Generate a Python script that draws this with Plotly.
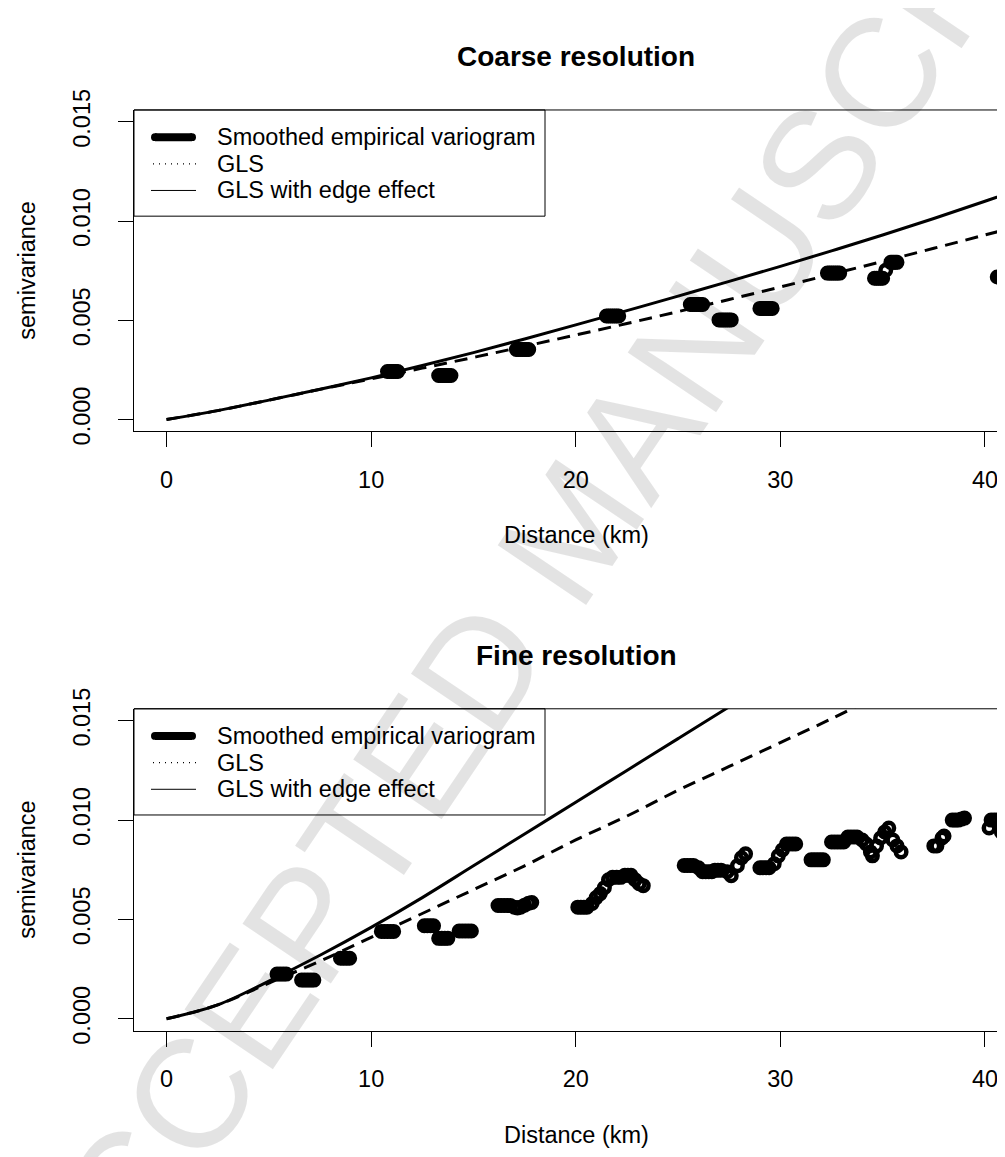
import plotly.graph_objects as go

W, H = 1005, 1157

# ---------------- data ----------------
curve_x_top = [0, 2.5, 5, 7.5, 10, 12.5, 15, 17.5, 20, 22.5, 25, 27.5, 30, 32.5, 35, 37.5, 40, 42.5]
top_edge = [0, 0.00045, 0.00098, 0.00153, 0.00210, 0.00272, 0.00337, 0.00406, 0.00477, 0.00549,
            0.00622, 0.00696, 0.00772, 0.00850, 0.00930, 0.01013, 0.01100, 0.01190]
top_gls = [0, 0.00045, 0.00098, 0.00152, 0.00205, 0.00259, 0.00313, 0.00369, 0.00426, 0.00484,
           0.00544, 0.00605, 0.00668, 0.00732, 0.00797, 0.00863, 0.00930, 0.00998]

curve_x_bot_edge = [0, 2.5, 5, 7.5, 10, 12.5, 15, 17.5, 20, 22.5, 25, 27.5, 30]
bot_edge = [0, 0.0007, 0.0019, 0.0032, 0.0046, 0.0061, 0.0077, 0.0093, 0.0109, 0.0125, 0.0141, 0.0157, 0.0173]
curve_x_bot_gls = [0, 2.5, 5, 7.5, 10, 12.5, 15, 17.5, 20, 22.5, 25, 27.5, 30, 32.5, 35]
bot_gls = [0, 0.0007, 0.0018, 0.0029, 0.0041, 0.0053, 0.0065, 0.0077, 0.0090, 0.0102,
           0.0115, 0.0127, 0.0139, 0.0151, 0.0164]

top_pts_x = [10.8, 10.9, 11.0, 11.1, 11.2, 11.3,
             13.3, 13.4, 13.5, 13.6, 13.7, 13.8, 13.9,
             17.1, 17.2, 17.3, 17.4, 17.5, 17.6, 17.7,
             21.5, 21.6, 21.7, 21.8, 21.9, 22.0, 22.1,
             25.6, 25.7, 25.8, 25.9, 26.0, 26.1, 26.2,
             27.0, 27.1, 27.2, 27.3, 27.4, 27.5, 27.6,
             29.0, 29.1, 29.2, 29.3, 29.4, 29.5, 29.6,
             32.3, 32.4, 32.5, 32.6, 32.7, 32.8, 32.9,
             34.6, 34.7, 34.8, 34.9, 35.0, 35.15, 35.4, 35.5, 35.6, 35.7,
             40.6, 40.7, 40.8, 40.9, 41.0, 41.1, 41.2, 41.3, 41.4, 41.5]
top_pts_y = [0.00242, 0.00242, 0.00242, 0.00242, 0.00242, 0.00242,
             0.00222, 0.00222, 0.00222, 0.00222, 0.00222, 0.00222, 0.00222,
             0.00353, 0.00353, 0.00353, 0.00353, 0.00353, 0.00353, 0.00353,
             0.00522, 0.00522, 0.00522, 0.00522, 0.00522, 0.00522, 0.00522,
             0.00580, 0.00580, 0.00580, 0.00580, 0.00580, 0.00580, 0.00580,
             0.00502, 0.00502, 0.00502, 0.00502, 0.00502, 0.00502, 0.00502,
             0.00560, 0.00560, 0.00560, 0.00560, 0.00560, 0.00560, 0.00560,
             0.00738, 0.00738, 0.00738, 0.00738, 0.00738, 0.00738, 0.00738,
             0.00712, 0.00712, 0.00712, 0.00712, 0.00712, 0.00752, 0.00792, 0.00792, 0.00792, 0.00792,
             0.00718, 0.00718, 0.00718, 0.00718, 0.00718, 0.00718, 0.00718, 0.00718, 0.00718, 0.00718]

bot_pts_x = [5.4, 5.55, 5.7, 5.85,
             6.6, 6.75, 6.9, 7.05, 7.2,
             8.5, 8.65, 8.8, 8.95,
             10.5, 10.65, 10.8, 10.95, 11.1,
             12.6, 12.75, 12.9, 13.05,
             13.3, 13.45, 13.6, 13.75,
             14.3, 14.45, 14.6, 14.75, 14.9,
             16.2, 16.35, 16.5, 16.65, 16.8, 17.0, 17.15, 17.3, 17.5, 17.7, 17.85,
             20.1, 20.25, 20.4, 20.55, 20.8, 21.0, 21.2, 21.4, 21.6, 21.8, 22.0, 22.2,
             22.4, 22.55, 22.7, 22.9, 23.1, 23.3,
             25.3, 25.45, 25.6, 25.75, 26.0, 26.2, 26.35, 26.5, 26.65, 26.8, 26.95, 27.1,
             27.4, 27.6, 27.9, 28.1, 28.3,
             29.0, 29.15, 29.3, 29.45, 29.7, 29.9, 30.1, 30.3, 30.45, 30.6, 30.75,
             31.5, 31.65, 31.8, 31.95, 32.1,
             32.5, 32.65, 32.8, 32.95, 33.1, 33.3, 33.45, 33.6, 33.75,
             34.0, 34.2, 34.4, 34.5, 34.7, 34.9, 35.1, 35.3, 35.5, 35.7, 35.9,
             37.5, 37.65, 37.9, 38.0, 38.4, 38.55, 38.7, 38.85, 39.0,
             40.2, 40.3, 40.45, 40.6, 40.8, 41.0, 41.15, 41.3, 41.45]
bot_pts_y = [0.00225, 0.00225, 0.00225, 0.00225,
             0.00195, 0.00195, 0.00195, 0.00195, 0.00195,
             0.00305, 0.00305, 0.00305, 0.00305,
             0.00440, 0.00440, 0.00440, 0.00440, 0.00440,
             0.00468, 0.00468, 0.00468, 0.00468,
             0.00405, 0.00405, 0.00405, 0.00405,
             0.00442, 0.00442, 0.00442, 0.00442, 0.00442,
             0.00570, 0.00570, 0.00570, 0.00570, 0.00570, 0.00562, 0.00558, 0.00562, 0.00572, 0.00582, 0.00585,
             0.00562, 0.00562, 0.00562, 0.00562, 0.00580, 0.00610, 0.00630, 0.00660, 0.00700, 0.00712, 0.00712, 0.00712,
             0.00722, 0.00722, 0.00722, 0.00700, 0.00680, 0.00670,
             0.00772, 0.00772, 0.00772, 0.00772, 0.00760, 0.00740, 0.00740, 0.00740, 0.00740, 0.00748, 0.00748, 0.00748,
             0.00740, 0.00720, 0.00770, 0.00810, 0.00830,
             0.00760, 0.00760, 0.00760, 0.00760, 0.00780, 0.00820, 0.00850, 0.00880, 0.00880, 0.00880, 0.00880,
             0.00800, 0.00800, 0.00800, 0.00800, 0.00800,
             0.00890, 0.00890, 0.00890, 0.00890, 0.00890, 0.00915, 0.00915, 0.00915, 0.00915,
             0.00900, 0.00880, 0.00840, 0.00820, 0.00870, 0.00910, 0.00940, 0.00960, 0.00900, 0.00870, 0.00840,
             0.00870, 0.00870, 0.00910, 0.00920, 0.01000, 0.01000, 0.01000, 0.01005, 0.01010,
             0.00960, 0.01000, 0.01000, 0.01000, 0.00940, 0.00930, 0.00930, 0.00930, 0.00930]

x_ticks = [0, 10, 20, 30, 40]
y_ticks = [0, 0.005, 0.010, 0.015]
y_ticktext = ["0.000", "0.005", "0.010", "0.015"]
panel_titles = ["Coarse resolution", "Fine resolution"]
x_title = "Distance (km)"
y_title = "semivariance"
legend_labels = ["Smoothed empirical variogram", "GLS", "GLS with edge effect"]
watermark = "ACCEPTED MANUSCRIPT"

# ---------------- layout helpers ----------------
FONT = "Liberation Sans, Arial, Helvetica, sans-serif"
FS = 23.5
BOX_L = 126
panels = [(83.5, 415.0), (701.0, 1033.0)]  # top / bottom pixel of plot box


def px(x):
    return x / W


def py(y):
    return 1 - y / H


fig = go.Figure()

line_w = 3
dash = "13px,8px"
marker = dict(symbol="circle-open", size=10.5, color="black", line=dict(width=4.5, color="black"))
spl = dict(shape="spline", smoothing=1.0)

# top panel
fig.add_trace(go.Scatter(x=top_pts_x, y=top_pts_y, mode="markers", marker=marker,
                         xaxis="x", yaxis="y", showlegend=False, hoverinfo="skip"))
fig.add_trace(go.Scatter(x=curve_x_top, y=top_gls, mode="lines",
                         line=dict(color="black", width=line_w, dash=dash, **spl),
                         xaxis="x", yaxis="y", showlegend=False, hoverinfo="skip"))
fig.add_trace(go.Scatter(x=curve_x_top, y=top_edge, mode="lines",
                         line=dict(color="black", width=line_w, **spl),
                         xaxis="x", yaxis="y", showlegend=False, hoverinfo="skip"))
# bottom panel
fig.add_trace(go.Scatter(x=bot_pts_x, y=bot_pts_y, mode="markers", marker=marker,
                         xaxis="x2", yaxis="y2", showlegend=False, hoverinfo="skip"))
fig.add_trace(go.Scatter(x=curve_x_bot_gls, y=bot_gls, mode="lines",
                         line=dict(color="black", width=line_w, dash=dash, **spl),
                         xaxis="x2", yaxis="y2", showlegend=False, hoverinfo="skip"))
fig.add_trace(go.Scatter(x=curve_x_bot_edge, y=bot_edge, mode="lines",
                         line=dict(color="black", width=line_w, **spl),
                         xaxis="x2", yaxis="y2", showlegend=False, hoverinfo="skip"))

x_range = [-1.59, 41.37]
y_range = [-0.0006, 0.0156]


def xaxis_cfg(anchor):
    return dict(domain=[px(BOX_L), 1], range=x_range, anchor=anchor,
                tickmode="array", tickvals=x_ticks, ticktext=[str(t) for t in x_ticks],
                ticks="outside", ticklen=15, tickwidth=1, tickcolor="black",
                showline=True, linecolor="black", linewidth=1, mirror=False,
                showgrid=False, zeroline=False, ticklabelstandoff=12,
                tickfont=dict(family=FONT, size=FS, color="black"), fixedrange=True)


def yaxis_cfg(anchor, top, bottom):
    return dict(domain=[py(bottom), py(top)], range=y_range, anchor=anchor,
                tickmode="array", tickvals=y_ticks, ticktext=y_ticktext, tickangle=-90,
                ticks="outside", ticklen=15, tickwidth=1, tickcolor="black",
                showline=True, linecolor="black", linewidth=1,
                showgrid=False, zeroline=False, ticklabelstandoff=19,
                tickfont=dict(family=FONT, size=FS, color="black"), fixedrange=True)


annotations = []
shapes = []

for i, (top, bottom) in enumerate(panels):
    cx = px(568)
    annotations.append(dict(text="<b>%s</b>" % panel_titles[i], x=cx, y=py(top - 55),
                            xref="paper", yref="paper", showarrow=False,
                            xanchor="center", yanchor="middle",
                            font=dict(family=FONT, size=28, color="black")))
    annotations.append(dict(text=x_title, x=cx, y=py(bottom + 107),
                            xref="paper", yref="paper", showarrow=False,
                            xanchor="center", yanchor="middle",
                            font=dict(family=FONT, size=FS, color="black")))
    annotations.append(dict(text=y_title, x=px(19), y=py((top + bottom) / 2),
                            xref="paper", yref="paper", showarrow=False, textangle=-90,
                            xanchor="center", yanchor="middle",
                            font=dict(family=FONT, size=FS, color="black")))
    shapes.append(dict(type="line", xref="paper", yref="paper",
                       x0=px(BOX_L), x1=1, y0=py(top), y1=py(top),
                       line=dict(color="black", width=1)))
    leg_bottom = top + 109.5
    shapes.append(dict(type="rect", xref="paper", yref="paper",
                       x0=px(BOX_L), x1=px(537), y0=py(leg_bottom), y1=py(top),
                       line=dict(color="black", width=1), fillcolor="rgba(0,0,0,0)"))
    rows = [top + 28, top + 55.5, top + 83]
    shapes.append(dict(type="line", xref="paper", yref="paper",
                       x0=px(147), x1=px(184), y0=py(rows[0]), y1=py(rows[0]),
                       line=dict(color="black", width=8)))
    for ex in (147, 184):
        shapes.append(dict(type="circle", xref="paper", yref="paper",
                           x0=px(ex - 4), x1=px(ex + 4), y0=py(rows[0] + 4), y1=py(rows[0] - 4),
                           line=dict(width=0), fillcolor="black"))
    shapes.append(dict(type="line", xref="paper", yref="paper",
                       x0=px(145), x1=px(188), y0=py(rows[1]), y1=py(rows[1]),
                       line=dict(color="black", width=1.3, dash="1px,5px")))
    shapes.append(dict(type="line", xref="paper", yref="paper",
                       x0=px(143), x1=px(188), y0=py(rows[2]), y1=py(rows[2]),
                       line=dict(color="black", width=1)))
    for r, lab in zip(rows, legend_labels):
        annotations.append(dict(text=lab, x=px(207), y=py(r), xref="paper", yref="paper",
                                showarrow=False, xanchor="left", yanchor="middle",
                                font=dict(family=FONT, size=FS, color="black")))

# watermark (semi-transparent so black marks stay black)
annotations.append(dict(text=watermark, x=px(565), y=py(515), xref="paper", yref="paper",
                        showarrow=False, textangle=-56, xanchor="center", yanchor="middle",
                        font=dict(family=FONT, size=155, color="rgba(0,0,0,0.11)")))

fig.update_layout(
    width=W, height=H,
    margin=dict(l=0, r=0, t=0, b=0),
    paper_bgcolor="white", plot_bgcolor="white",
    xaxis=xaxis_cfg("y"),
    yaxis=yaxis_cfg("x", *panels[0]),
    xaxis2=xaxis_cfg("y2"),
    yaxis2=yaxis_cfg("x2", *panels[1]),
    annotations=annotations,
    shapes=shapes,
    showlegend=False,
)

fig.write_html("out.html")
